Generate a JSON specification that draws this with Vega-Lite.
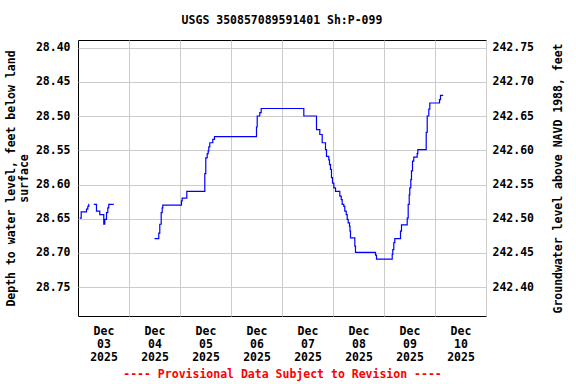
{
  "$schema": "https://vega.github.io/schema/vega-lite/v6.json",
  "autosize": "none",
  "width": 408,
  "height": 276,
  "padding": {"left": 78, "top": 40, "right": 90, "bottom": 68},
  "background": "white",
  "title": {
    "text": "USGS 350857089591401 Sh:P-099",
    "font": "DejaVu Sans Mono",
    "fontSize": 11.5,
    "fontWeight": "bold",
    "color": "black",
    "anchor": "middle",
    "frame": "group",
    "offset": 14
  },
  "data": {
    "values": [
      {"seg": "a", "t": "2025-12-03T00:51", "depth": 28.649},
      {"seg": "a", "t": "2025-12-03T01:30", "depth": 28.640},
      {"seg": "a", "t": "2025-12-03T04:00", "depth": 28.636},
      {"seg": "a", "t": "2025-12-03T04:37", "depth": 28.632},
      {"seg": "a", "t": "2025-12-03T05:05", "depth": 28.629},
      {"seg": "a", "t": "2025-12-03T05:15", "depth": 28.629},
      {"seg": "b", "t": "2025-12-03T07:26", "depth": 28.629},
      {"seg": "b", "t": "2025-12-03T08:42", "depth": 28.639},
      {"seg": "b", "t": "2025-12-03T10:15", "depth": 28.644},
      {"seg": "b", "t": "2025-12-03T12:08", "depth": 28.658},
      {"seg": "b", "t": "2025-12-03T12:37", "depth": 28.651},
      {"seg": "b", "t": "2025-12-03T13:25", "depth": 28.641},
      {"seg": "b", "t": "2025-12-03T14:01", "depth": 28.634},
      {"seg": "b", "t": "2025-12-03T14:29", "depth": 28.629},
      {"seg": "b", "t": "2025-12-03T16:51", "depth": 28.629},
      {"seg": "c", "t": "2025-12-04T12:00", "depth": 28.679},
      {"seg": "c", "t": "2025-12-04T14:01", "depth": 28.671},
      {"seg": "c", "t": "2025-12-04T14:29", "depth": 28.658},
      {"seg": "c", "t": "2025-12-04T15:09", "depth": 28.641},
      {"seg": "c", "t": "2025-12-04T15:37", "depth": 28.634},
      {"seg": "c", "t": "2025-12-04T15:54", "depth": 28.630},
      {"seg": "c", "t": "2025-12-05T00:42", "depth": 28.624},
      {"seg": "c", "t": "2025-12-05T01:02", "depth": 28.620},
      {"seg": "c", "t": "2025-12-05T03:12", "depth": 28.610},
      {"seg": "c", "t": "2025-12-05T11:40", "depth": 28.584},
      {"seg": "c", "t": "2025-12-05T12:08", "depth": 28.561},
      {"seg": "c", "t": "2025-12-05T12:48", "depth": 28.555},
      {"seg": "c", "t": "2025-12-05T13:16", "depth": 28.551},
      {"seg": "c", "t": "2025-12-05T13:33", "depth": 28.545},
      {"seg": "c", "t": "2025-12-05T14:01", "depth": 28.539},
      {"seg": "c", "t": "2025-12-05T15:26", "depth": 28.534},
      {"seg": "c", "t": "2025-12-05T16:14", "depth": 28.530},
      {"seg": "c", "t": "2025-12-06T12:00", "depth": 28.516},
      {"seg": "c", "t": "2025-12-06T12:20", "depth": 28.500},
      {"seg": "c", "t": "2025-12-06T13:33", "depth": 28.495},
      {"seg": "c", "t": "2025-12-06T14:12", "depth": 28.489},
      {"seg": "c", "t": "2025-12-07T10:16", "depth": 28.500},
      {"seg": "c", "t": "2025-12-07T16:14", "depth": 28.520},
      {"seg": "c", "t": "2025-12-07T17:47", "depth": 28.527},
      {"seg": "c", "t": "2025-12-07T18:55", "depth": 28.539},
      {"seg": "c", "t": "2025-12-07T20:28", "depth": 28.549},
      {"seg": "c", "t": "2025-12-07T20:56", "depth": 28.559},
      {"seg": "c", "t": "2025-12-07T22:01", "depth": 28.564},
      {"seg": "c", "t": "2025-12-07T22:21", "depth": 28.571},
      {"seg": "c", "t": "2025-12-07T22:49", "depth": 28.578},
      {"seg": "c", "t": "2025-12-07T23:17", "depth": 28.590},
      {"seg": "c", "t": "2025-12-07T23:46", "depth": 28.598},
      {"seg": "c", "t": "2025-12-08T00:23", "depth": 28.605},
      {"seg": "c", "t": "2025-12-08T01:11", "depth": 28.610},
      {"seg": "c", "t": "2025-12-08T03:12", "depth": 28.617},
      {"seg": "c", "t": "2025-12-08T03:52", "depth": 28.622},
      {"seg": "c", "t": "2025-12-08T04:20", "depth": 28.629},
      {"seg": "c", "t": "2025-12-08T05:05", "depth": 28.632},
      {"seg": "c", "t": "2025-12-08T05:33", "depth": 28.639},
      {"seg": "c", "t": "2025-12-08T06:13", "depth": 28.644},
      {"seg": "c", "t": "2025-12-08T06:41", "depth": 28.651},
      {"seg": "c", "t": "2025-12-08T07:09", "depth": 28.656},
      {"seg": "c", "t": "2025-12-08T07:46", "depth": 28.661},
      {"seg": "c", "t": "2025-12-08T08:00", "depth": 28.668},
      {"seg": "c", "t": "2025-12-08T08:14", "depth": 28.678},
      {"seg": "c", "t": "2025-12-08T10:16", "depth": 28.690},
      {"seg": "c", "t": "2025-12-08T10:35", "depth": 28.699},
      {"seg": "c", "t": "2025-12-08T20:00", "depth": 28.703},
      {"seg": "c", "t": "2025-12-08T20:28", "depth": 28.709},
      {"seg": "c", "t": "2025-12-09T03:52", "depth": 28.702},
      {"seg": "c", "t": "2025-12-09T04:08", "depth": 28.695},
      {"seg": "c", "t": "2025-12-09T04:37", "depth": 28.685},
      {"seg": "c", "t": "2025-12-09T05:05", "depth": 28.679},
      {"seg": "c", "t": "2025-12-09T07:46", "depth": 28.668},
      {"seg": "c", "t": "2025-12-09T08:14", "depth": 28.659},
      {"seg": "c", "t": "2025-12-09T10:55", "depth": 28.649},
      {"seg": "c", "t": "2025-12-09T11:23", "depth": 28.629},
      {"seg": "c", "t": "2025-12-09T11:52", "depth": 28.615},
      {"seg": "c", "t": "2025-12-09T12:08", "depth": 28.605},
      {"seg": "c", "t": "2025-12-09T12:37", "depth": 28.593},
      {"seg": "c", "t": "2025-12-09T12:56", "depth": 28.580},
      {"seg": "c", "t": "2025-12-09T13:25", "depth": 28.566},
      {"seg": "c", "t": "2025-12-09T14:01", "depth": 28.560},
      {"seg": "c", "t": "2025-12-09T15:37", "depth": 28.555},
      {"seg": "c", "t": "2025-12-09T15:55", "depth": 28.549},
      {"seg": "c", "t": "2025-12-09T19:52", "depth": 28.524},
      {"seg": "c", "t": "2025-12-09T20:20", "depth": 28.500},
      {"seg": "c", "t": "2025-12-09T21:05", "depth": 28.490},
      {"seg": "c", "t": "2025-12-09T21:33", "depth": 28.481},
      {"seg": "c", "t": "2025-12-10T02:07", "depth": 28.476},
      {"seg": "c", "t": "2025-12-10T02:35", "depth": 28.470},
      {"seg": "c", "t": "2025-12-10T03:52", "depth": 28.470}
    ]
  },
  "layer": [
    {
      "mark": {"type": "line", "interpolate": "step-after", "color": "#0000ff", "strokeWidth": 1.2, "clip": true},
      "encoding": {
        "x": {
          "field": "t",
          "type": "temporal",
          "scale": {"domain": [{"year": 2025, "month": 12, "date": 3}, {"year": 2025, "month": 12, "date": 11}]},
          "axis": {
            "title": "---- Provisional Data Subject to Revision ----",
            "titleColor": "red",
            "titleFont": "DejaVu Sans Mono",
            "titleFontSize": 11.5,
            "titleFontWeight": "bold",
            "titlePadding": 6,
            "values": [
              {"year": 2025, "month": 12, "date": 4},
              {"year": 2025, "month": 12, "date": 5},
              {"year": 2025, "month": 12, "date": 6},
              {"year": 2025, "month": 12, "date": 7},
              {"year": 2025, "month": 12, "date": 8},
              {"year": 2025, "month": 12, "date": 9},
              {"year": 2025, "month": 12, "date": 10},
              {"year": 2025, "month": 12, "date": 11}
            ],
            "labelExpr": "[timeFormat(datum.value - 86400000, '%b'), timeFormat(datum.value - 86400000, '%d'), timeFormat(datum.value - 86400000, '%Y')]",
            "labelOffset": -25.5,
            "labelFlush": false,
            "labelOverlap": false,
            "labelPadding": 9,
            "labelLineHeight": 13,
            "ticks": false,
            "domain": false,
            "grid": true
          }
        },
        "y": {
          "field": "depth",
          "type": "quantitative",
          "scale": {"domain": [28.389, 28.792], "reverse": true, "nice": false, "zero": false},
          "axis": {
            "title": ["Depth to water level, feet below land", "surface"],
            "titleFont": "DejaVu Sans Mono",
            "titleFontSize": 11.5,
            "titleFontWeight": "bold",
            "titleLineHeight": 13,
            "titlePadding": 6,
            "values": [28.4, 28.45, 28.5, 28.55, 28.6, 28.65, 28.7, 28.75],
            "format": ".2f",
            "labelPadding": 8,
            "ticks": false,
            "domain": false,
            "grid": true
          }
        },
        "detail": {"field": "seg", "type": "nominal"}
      }
    },
    {
      "mark": {"type": "rule", "opacity": 0},
      "encoding": {
        "y": {
          "datum": 242.5,
          "type": "quantitative",
          "scale": {"domain": [242.358, 242.761], "nice": false, "zero": false},
          "axis": {
            "orient": "right",
            "title": "Groundwater level above NAVD 1988, feet",
            "titleFont": "DejaVu Sans Mono",
            "titleFontSize": 11.5,
            "titleFontWeight": "bold",
            "titleAngle": 270,
            "titleBaseline": "bottom",
            "titlePadding": 30,
            "values": [242.4, 242.45, 242.5, 242.55, 242.6, 242.65, 242.7, 242.75],
            "format": ".2f",
            "labelPadding": 6,
            "ticks": false,
            "domain": false,
            "grid": false
          }
        }
      }
    }
  ],
  "resolve": {"scale": {"y": "independent"}},
  "config": {
    "view": {"stroke": "black", "strokeWidth": 1},
    "axis": {
      "labelFont": "DejaVu Sans Mono",
      "labelFontSize": 11.5,
      "labelFontWeight": "bold",
      "labelColor": "black",
      "titleColor": "black",
      "gridColor": "#cccccc",
      "gridWidth": 1,
      "gridOpacity": 1
    }
  }
}
